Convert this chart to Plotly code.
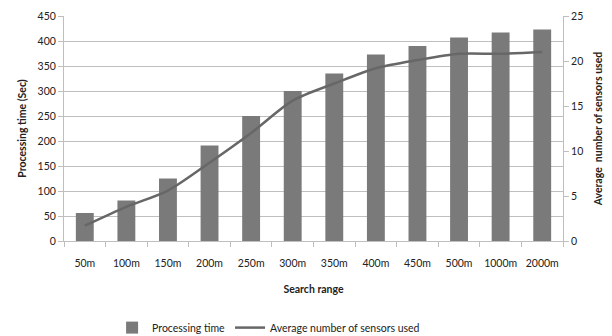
import plotly.graph_objects as go

# Search ranges and measured results
search_range = ["50m", "100m", "150m", "200m", "250m", "300m", "350m",
                "400m", "450m", "500m", "1000m", "2000m"]
processing_time = [56, 81, 125, 191, 250, 300, 335, 373, 390, 407, 417, 423]
avg_sensors = [1.7, 3.8, 5.6, 8.7, 12.0, 15.6, 17.5, 19.2, 20.1, 20.8, 20.8, 21.0]

FONT = "Lato"
GRID = "#bfbfbf"

fig = go.Figure()
fig.add_trace(go.Bar(
    x=search_range, y=processing_time, name="Processing time",
    marker=dict(color="#7a7a7a", line=dict(width=0)),
))
fig.add_trace(go.Scatter(
    x=search_range, y=avg_sensors, name="Average number of sensors used",
    yaxis="y2", mode="lines",
    line=dict(color="#676767", width=2.5, shape="spline", smoothing=0.8),
))

fig.update_layout(
    width=612, height=336,
    margin=dict(l=64, r=49, t=16, b=95),
    paper_bgcolor="white", plot_bgcolor="white",
    font=dict(family=FONT, size=10.5, color="#222"),
    bargap=0.57,
    showlegend=True,
    legend=dict(orientation="h", x=0.41, xanchor="center",
                yref="container", y=0.025, yanchor="middle",
                font=dict(size=10.5), tracegroupgap=0, itemwidth=30),
    xaxis=dict(
        showline=True, linecolor=GRID, linewidth=1,
        ticks="outside", tickson="boundaries", ticklen=5, tickcolor=GRID,
        tickangle=0, ticklabelstandoff=12, automargin=False,
        title=dict(text="<b>Search range</b>", font=dict(size=10.5), standoff=18),
    ),
    yaxis=dict(
        range=[0, 450], dtick=50, automargin=False,
        showgrid=True, gridcolor=GRID, gridwidth=1,
        showline=True, linecolor=GRID, ticks="outside", ticklen=5, tickcolor=GRID,
        zeroline=False,
        title=dict(text="<b>Processing time (Sec)</b>", font=dict(size=10.5), standoff=8),
    ),
    yaxis2=dict(
        range=[0, 25], dtick=5, overlaying="y", side="right", automargin=False,
        showgrid=False, showline=True, linecolor=GRID,
        ticks="outside", ticklen=5, tickcolor=GRID, zeroline=False,
        title=dict(text="<b>Average  number of sensors used</b>", font=dict(size=10.5), standoff=12),
    ),
)

fig.write_html("out.html")
